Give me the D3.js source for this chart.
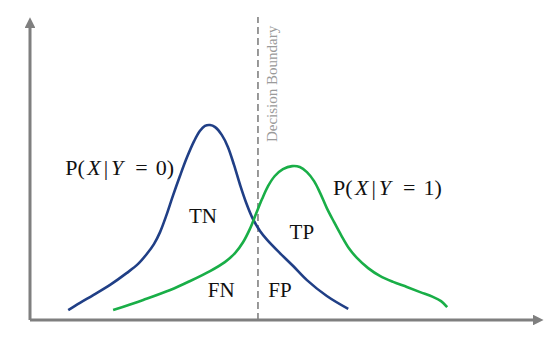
<!DOCTYPE html>
<html>
<head>
<meta charset="utf-8">
<script src="https://cdn.jsdelivr.net/npm/d3@7"></script>
<style>
  body { margin: 0; background: #fff; }
  text { font-family: "Liberation Serif", "DejaVu Serif", serif; }
</style>
</head>
<body>
<div id="main"></div>
<script>
// class-conditional curves (x in 0..10, density in 0..1)
var negX = [0.75, 0.98, 1.24, 1.57, 1.90, 2.12, 2.29, 2.43, 2.55, 2.67, 2.80, 2.94, 3.08, 3.22, 3.33, 3.43, 3.53, 3.63, 3.76, 3.88, 4.00, 4.12, 4.24, 4.37, 4.51, 4.65, 4.90, 5.16, 5.43, 5.82, 6.24];
var negY = [0.033, 0.057, 0.083, 0.117, 0.157, 0.187, 0.22, 0.253, 0.293, 0.347, 0.413, 0.48, 0.543, 0.597, 0.63, 0.647, 0.65, 0.643, 0.617, 0.577, 0.517, 0.45, 0.39, 0.337, 0.297, 0.267, 0.223, 0.18, 0.133, 0.08, 0.037];

var posX = [1.63, 2.22, 2.75, 3.14, 3.53, 3.82, 4.02, 4.18, 4.31, 4.43, 4.55, 4.67, 4.80, 4.96, 5.14, 5.29, 5.43, 5.57, 5.69, 5.82, 5.96, 6.10, 6.25, 6.41, 6.63, 6.86, 7.12, 7.39, 7.65, 7.90, 8.06, 8.18];
var posY = [0.033, 0.067, 0.10, 0.13, 0.163, 0.193, 0.223, 0.26, 0.303, 0.353, 0.403, 0.447, 0.48, 0.503, 0.513, 0.51, 0.493, 0.463, 0.423, 0.373, 0.327, 0.283, 0.24, 0.207, 0.173, 0.147, 0.127, 0.11, 0.093, 0.077, 0.063, 0.043];

var boundary = 4.47;

var regionNames = ["TN", "FN", "TP", "FP"];
var regionX = [3.39, 3.75, 5.33, 4.90];
var regionY = [0.323, 0.077, 0.27, 0.077];

var width = 550,
    height = 341;

var x = d3.scaleLinear().domain([0, 10]).range([30, 540]);
var y = d3.scaleLinear().domain([0, 1]).range([320, 20]);

var svg = d3.select("#main").append("svg")
    .attr("width", width)
    .attr("height", height);

var defs = svg.append("defs");
defs.append("marker")
    .attr("id", "arrow")
    .attr("viewBox", "0 0 10 10")
    .attr("refX", 2)
    .attr("refY", 5)
    .attr("markerWidth", 3.6)
    .attr("markerHeight", 3.6)
    .attr("orient", "auto")
  .append("path")
    .attr("d", "M0,0L10,5L0,10Z")
    .attr("fill", "#7f7f7f");

// axes
svg.append("line")
    .attr("x1", x(0)).attr("y1", y(0))
    .attr("x2", x(0)).attr("y2", y(0.98))
    .attr("stroke", "#7f7f7f")
    .attr("stroke-width", 3)
    .attr("marker-end", "url(#arrow)");

svg.append("line")
    .attr("x1", x(0)).attr("y1", y(0))
    .attr("x2", x(9.9)).attr("y2", y(0))
    .attr("stroke", "#7f7f7f")
    .attr("stroke-width", 3)
    .attr("marker-end", "url(#arrow)");

// decision boundary
svg.append("line")
    .attr("x1", x(boundary)).attr("y1", y(0))
    .attr("x2", x(boundary)).attr("y2", y(1.01))
    .attr("stroke", "#808080")
    .attr("stroke-width", 1.6)
    .attr("stroke-dasharray", "7,4");

svg.append("text")
    .attr("transform", "translate(" + (x(boundary) + 19) + "," + y(0.593) + ") rotate(-90)")
    .attr("font-size", 15)
    .attr("fill", "#9a9a9a")
    .text("Decision Boundary");

var line = d3.line()
    .x(function (d) { return x(d[0]); })
    .y(function (d) { return y(d[1]); })
    .curve(d3.curveCatmullRom.alpha(0.5));

svg.append("path")
    .datum(d3.zip(negX, negY))
    .attr("d", line)
    .attr("fill", "none")
    .attr("stroke", "#203f86")
    .attr("stroke-width", 2.6);

svg.append("path")
    .datum(d3.zip(posX, posY))
    .attr("d", line)
    .attr("fill", "none")
    .attr("stroke", "#19ae47")
    .attr("stroke-width", 2.6);

// region labels
svg.selectAll("text.region")
    .data(regionNames)
    .enter().append("text")
    .attr("class", "region")
    .attr("x", function (d, i) { return x(regionX[i]); })
    .attr("y", function (d, i) { return y(regionY[i]); })
    .attr("text-anchor", "middle")
    .attr("font-size", 21)
    .attr("fill", "#111")
    .text(function (d) { return d; });

// P(X|Y = k) labels, spaced like the math font
function condLabel(px, py, k) {
  var t = svg.append("text")
      .attr("x", x(px))
      .attr("y", y(py))
      .attr("font-size", 22)
      .attr("fill", "#111");
  t.append("tspan").text("P(");
  t.append("tspan").attr("dx", 2.5).attr("font-style", "italic").text("X");
  t.append("tspan").attr("dx", 3).text("|");
  t.append("tspan").attr("dx", 3).attr("font-style", "italic").text("Y");
  t.append("tspan").attr("dx", 12).text("=");
  t.append("tspan").attr("dx", 8).text(k + ")");
}

condLabel(0.69, 0.483, 0);
condLabel(5.94, 0.417, 1);
</script>
</body>
</html>
